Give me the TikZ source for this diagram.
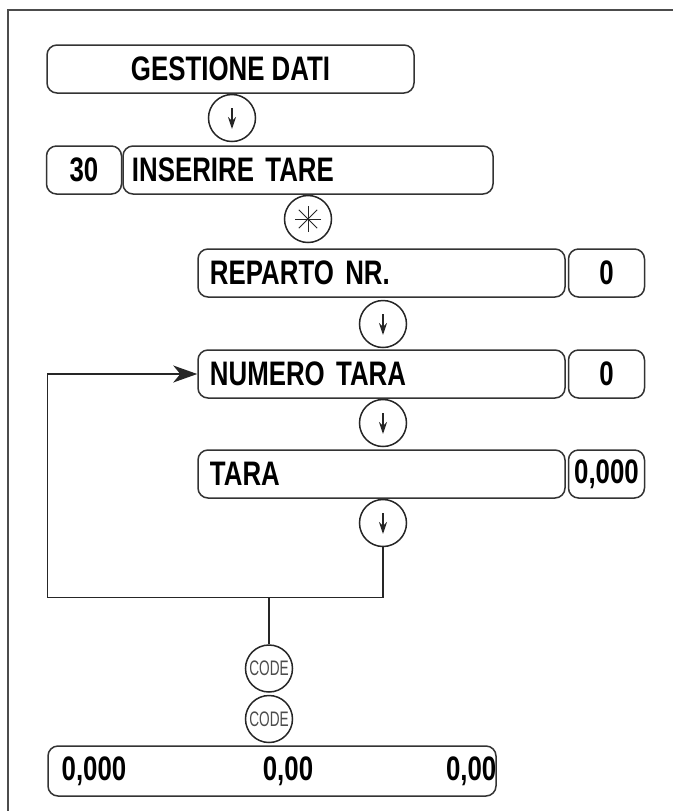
\documentclass[tikz,border=0pt]{standalone}
\usepackage{fontspec}
\newfontfamily\panelfont[FakeStretch=0.76]{Liberation Sans}
\newfontfamily\keyfont[FakeStretch=0.65]{Liberation Sans}
\usetikzlibrary{shapes,arrows.meta,positioning,calc}

\begin{document}
\begin{tikzpicture}[
    x=0.5pt, y=-0.5pt,
    font=\panelfont\bfseries\fontsize{17}{19}\selectfont,
    panel/.style={draw=black!80, line width=0.75pt, rectangle, rounded corners=5pt, minimum height=24pt, inner ysep=0pt},
    rowbox/.style={panel, text width=#1, align=left, inner xsep=6pt},
    valbox/.style={panel, minimum width=38pt, inner xsep=0pt},
    keycirc/.style={draw=black!85, line width=0.75pt, circle, minimum size=23.5pt, inner sep=0pt},
    keydown/.style={keycirc, path picture={
        \draw[line width=0.9pt, -{Stealth[length=6pt,width=4pt]}] ([yshift=5pt]path picture bounding box.center) -- ([yshift=-5.5pt]path picture bounding box.center);}},
    keystar/.style={keycirc, path picture={
        \foreach \ang in {0,45,90,135}
          \draw[line width=0.5pt] (path picture bounding box.center) +(\ang:6.5pt) -- +(\ang+180:6.5pt);}},
    keycode/.style={keycirc, font=\keyfont\fontsize{10.5}{11}\selectfont, text=black!70},
    wire/.style={draw=black!85, line width=0.75pt}
]
\useasboundingbox (0,0) rectangle (673,811);
\draw[line width=1pt, draw=black!70] (8,811) -- (8,10) -- (673,10);

\node[panel, minimum width=183.5pt] (gest) at (230.5,69) {GESTIONE DATI};
\node[keydown, below=0pt of gest, xshift=0.75pt] (k1) {};
\node[rowbox=176pt, inner xsep=4.5pt, below=1.5pt of k1, xshift=38pt] (ins) {INSERIRE TARE};
\node[valbox, minimum width=37.5pt, left=0pt of ins] (menunr) {30};
\node[keystar, below=0pt of ins] (kstar) {};

\node[rowbox=171.5pt, below=2.5pt of kstar, xshift=36.75pt] (rep) {REPARTO NR.};
\node[valbox, right=1pt of rep] (repval) {0};
\node[keydown, below=1pt of rep, xshift=0.75pt] (k2) {};
\node[rowbox=171.5pt, below=0.5pt of k2, xshift=-0.75pt] (num) {NUMERO TARA};
\node[valbox, right=1pt of num] (numval) {0};
\node[keydown, below=0pt of num, xshift=0.75pt] (k3) {};
\node[rowbox=171.5pt, below=1pt of k3, xshift=-0.75pt] (tara) {TARA};
\node[valbox, right=1pt of tara] (taraval) {0,000};
\node[keydown, below=0pt of tara, xshift=0.75pt] (k4) {};

% loop back to NUMERO TARA
\coordinate[below=25pt of k4] (loopr);
\coordinate (loopl) at ([xshift=0.5pt]gest.west |- loopr);
\draw[wire, -{Stealth[length=12pt,width=8.5pt,inset=3.5pt]}] (k4.south) -- (loopr) -- (loopl) |- (num.west);

\node[keycode, below=23.5pt of loopr, xshift=-57pt] (code1) {CODE};
\node[keycode, below=1pt of code1] (code2) {CODE};
\draw[wire] (code1.north) -- (code1 |- loopr);

\node[panel, minimum width=224pt, minimum height=25pt, below=1pt of code2, xshift=1.5pt] (disp) {};
\node[anchor=west, inner sep=0pt] (wgt) at ([xshift=7pt]disp.west) {0,000};
\node[inner sep=0pt] (unit) at ([xshift=8pt]disp.center) {0,00};
\node[anchor=east, inner sep=0pt] (tot) at (disp.east) {0,00};

\end{tikzpicture}
\end{document}
